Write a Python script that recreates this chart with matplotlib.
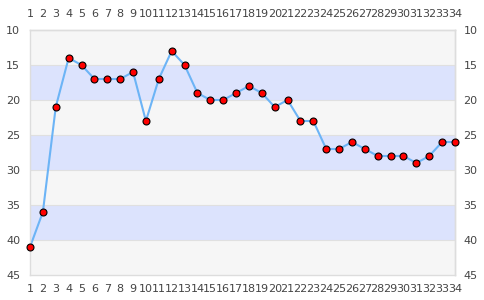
import matplotlib
matplotlib.use("Agg")
import matplotlib.pyplot as plt

x = list(range(1, 35))
y = [41, 36, 21, 14, 15, 17, 17, 17, 16, 23, 17, 13, 15, 19, 20, 20, 19, 18, 19, 21,
     20, 23, 23, 27, 27, 26, 27, 28, 28, 28, 29, 28, 26, 26]
yticks = [10, 15, 20, 25, 30, 35, 40, 45]
xlabels = [str(v) for v in x]

fig = plt.figure(figsize=(4.85, 3.0), dpi=100)
ax = fig.add_axes([30/485, 25/300, 425/485, 245/300])

band_colors = ['#f6f6f6', '#dce3fd']
for i in range(len(yticks) - 1):
    ax.axhspan(yticks[i], yticks[i+1], color=band_colors[i % 2], lw=0, zorder=0)
for t in yticks[1:-1]:
    ax.axhline(t, color='#e0e0e0', lw=0.8, zorder=0.5)

ax.plot(x, y, color='#6cb4f6', lw=1.5, zorder=2, clip_on=False)
ax.plot(x, y, ls='none', marker='o', ms=5, mfc='#ff0000', mec='#000000', mew=0.8,
        zorder=3, clip_on=False)

ax.set_xlim(1, 34)
ax.set_ylim(45, 10)
ax.set_xticks(x)
ax.set_xticklabels(xlabels)
ax.set_yticks(yticks)
ax.tick_params(axis='both', length=0, labelsize=8, colors='#444444')
ax.tick_params(axis='x', pad=6.5)
ax.tick_params(axis='y', pad=7)

top = ax.secondary_xaxis('top')
top.set_xticks(x)
top.set_xticklabels(xlabels)
top.tick_params(length=0, labelsize=8, colors='#444444', pad=8)

right = ax.secondary_yaxis('right')
right.set_yticks(yticks)
right.tick_params(length=0, labelsize=8, colors='#444444', pad=6)

for a in (ax, top, right):
    for s in a.spines.values():
        s.set_color('#dddddd')
        s.set_linewidth(1)

fig.savefig('out.png', dpi=100)
